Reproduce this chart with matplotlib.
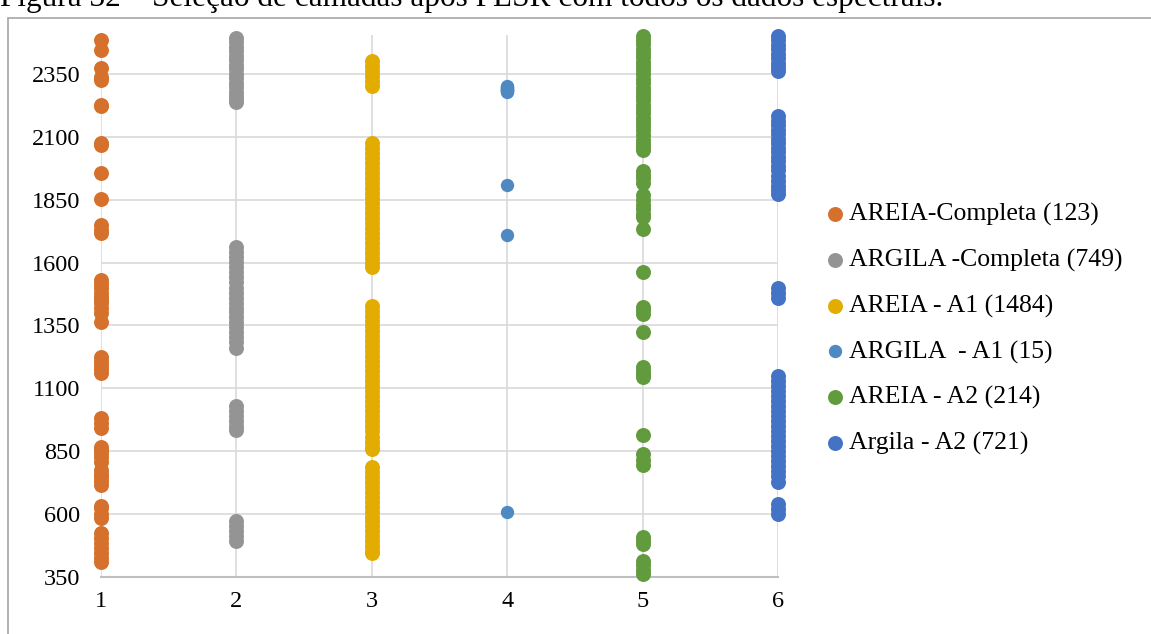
import numpy as np
import matplotlib
matplotlib.use("Agg")
import matplotlib.pyplot as plt
from matplotlib.patches import Rectangle

# values (one column per layer set)
areia_completa = [2486, 2447, 2374, 2340, 2327, 2228, 2222, 2075, 2068, 1956, 1854,
                  1750, 1730, 1717, 1531, 1515, 1498, 1480, 1462, 1451, 1438, 1420,
                  1400, 1365, 1226, 1210, 1193, 1175, 1160, 981, 960, 941, 868, 855,
                  841, 825, 808, 775, 760, 748, 730, 715, 632, 622, 600, 582, 523,
                  505, 483, 465, 443, 425, 410]
argila_completa = [2496, 2478, 2460, 2442, 2424, 2406, 2388, 2370, 2352, 2334, 2316,
                   2298, 2280, 2262, 2248, 2238,
                   1661, 1641, 1621, 1601, 1581, 1561, 1541, 1521, 1501, 1481, 1461,
                   1441, 1421, 1405, 1385, 1365, 1345, 1325, 1305, 1285, 1262,
                   1030, 1010, 990, 970, 950, 935,
                   572, 552, 532, 512, 493]
areia_a1 = [2401, 2381, 2361, 2341, 2321, 2302,
            2078, 2058, 2038, 2018, 1998, 1978, 1958, 1938, 1918, 1898, 1878, 1858,
            1838, 1818, 1798, 1778, 1758, 1738, 1718, 1698, 1678, 1658, 1638, 1618,
            1598, 1581,
            1428, 1408, 1388, 1368, 1348, 1328, 1308, 1288, 1268, 1248, 1228, 1208,
            1188, 1168, 1148, 1128, 1108, 1088, 1068, 1048, 1028, 1008, 988, 968,
            948, 928, 908, 888, 868, 859,
            788, 768, 748, 728, 708, 688, 668, 648, 628, 608, 588, 571, 551, 531,
            511, 491, 471, 451, 445]
argila_a1 = [2302, 2300, 2298, 2295, 2292, 2290, 2288, 2286, 2284, 2282, 2280,
             1910, 1710, 606]
areia_a2 = [2504, 2488, 2470, 2452, 2436, 2418, 2400, 2382, 2366, 2350, 2332, 2314,
            2296, 2280, 2262, 2246, 2228, 2210, 2194, 2176, 2160, 2142, 2126, 2108,
            2090, 2074, 2060, 2049, 1966, 1950, 1935, 1917, 1869, 1850, 1830, 1812,
            1795, 1780, 1733, 1564, 1424, 1410, 1395, 1325, 1185, 1170, 1158, 1145,
            914, 838, 815, 794, 509, 495, 479, 414, 395, 378, 360]
argila_a2 = [2504, 2486, 2468, 2450, 2432, 2414, 2396, 2380, 2363,
             2183, 2165, 2147, 2129, 2111, 2093, 2075, 2057, 2039, 2021, 2003, 1985,
             1967, 1944, 1925, 1905, 1888, 1873,
             1501, 1480, 1459,
             1150, 1130, 1110, 1090, 1070, 1050, 1030, 1010, 990, 970, 950, 930, 910,
             890, 870, 850, 830, 810, 790, 770, 750, 726,
             639, 620, 601]

series = [areia_completa, argila_completa, areia_a1, argila_a1, areia_a2, argila_a2]
labels = ["AREIA-Completa (123)", "ARGILA -Completa (749)", "AREIA - A1 (1484)",
          "ARGILA  - A1 (15)", "AREIA - A2 (214)", "Argila - A2 (721)"]
colors = ["#D5712C", "#949494", "#E2AC00", "#4E8AC1", "#629A3E", "#4472C4"]
sizes = [116, 116, 116, 92, 116, 116]
y_ticks = [350, 600, 850, 1100, 1350, 1600, 1850, 2100, 2350]

plt.rcParams['font.family'] = ['Liberation Serif', 'DejaVu Serif']

W, H = 1151, 634
fig = plt.figure(figsize=(W / 100, H / 100), dpi=100)

# frame around the chart (cut at the right and bottom in the source)
fig.patches.append(Rectangle((8 / W, -0.1), 1.2, 1 - 18 / H + 0.1, transform=fig.transFigure,
                             fill=False, edgecolor="#A6A6A6", linewidth=1.2))
# caption above the frame, cut by the top edge as in the source
fig.text(0.0, 1 - 6 / H, "Figura 32 – Seleção de camadas após PLSR com todos os dados espectrais.",
         fontsize=22.5, va="baseline", ha="left")

ax = fig.add_axes([101 / W, 1 - 576.7 / H, (778 - 101) / W, (576.7 - 35) / H])

for i, (vals, lab, col, sz) in enumerate(zip(series, labels, colors, sizes)):
    ax.scatter(np.full(len(vals), i + 1), vals, s=sz, color=col, linewidths=0,
               label=lab, zorder=3, clip_on=False)

ax.set_xlim(1, 6)
ax.set_ylim(350, 2506)
ax.set_xticks(range(1, 7))
ax.set_yticks(y_ticks)
ax.grid(True, color="#D9D9D9", linewidth=1.2, zorder=0)
ax.set_axisbelow(True)
for s in ["top", "right", "left"]:
    ax.spines[s].set_visible(False)
ax.spines["bottom"].set_color("#BFBFBF")
ax.spines["bottom"].set_linewidth(1.5)
ax.tick_params(length=0, labelsize=17.5)
ax.tick_params(axis="y", pad=15)
ax.tick_params(axis="x", pad=10)

leg = ax.legend(loc="upper left", bbox_to_anchor=(809 / W, 1 - 190 / H),
                bbox_transform=fig.transFigure, frameon=False, fontsize=18.5,
                handletextpad=0.05, labelspacing=0.87, borderpad=0, handlelength=1.0,
                scatterpoints=1)

fig.savefig("out.png", dpi=100)
